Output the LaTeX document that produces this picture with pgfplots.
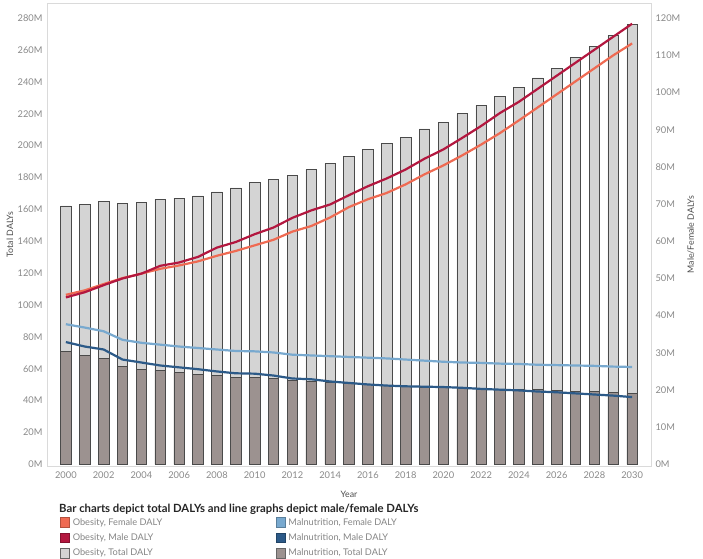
\documentclass[border=0pt]{standalone}
\usepackage{fontspec}
\setmainfont{Lato}
\usepackage{pgfplots}
\usepackage{pgfplotstable}
\pgfplotsset{compat=1.18}
\definecolor{obF}{HTML}{EF6A52}
\definecolor{obM}{HTML}{B3173F}
\definecolor{malF}{HTML}{78A9CF}
\definecolor{malM}{HTML}{2C5A88}
\definecolor{obT}{HTML}{D4D4D4}
\definecolor{malT}{HTML}{9C9290}
\definecolor{barline}{HTML}{4A4A4A}
\definecolor{axisgrey}{HTML}{DADADA}
\definecolor{tickgrey}{HTML}{8A8A8A}
\definecolor{labgrey}{HTML}{4D4D4D}
\definecolor{leggrey}{HTML}{858585}
\pgfplotstableread{
year obtot maltot obF obM malF malM
2000 162.2 70.9 45.6 44.9 37.7 32.9
2001 163.0 68.4 46.8 46.3 36.8 31.7
2002 165.0 66.5 48.5 48.2 35.8 30.9
2003 164.0 61.5 50.1 50.0 33.5 28.2
2004 164.3 59.8 51.3 51.3 32.7 27.4
2005 166.5 59.0 52.6 53.4 32.2 26.6
2006 167.0 57.5 53.5 54.3 31.7 26.1
2007 168.5 56.7 54.6 55.8 31.3 25.6
2008 171.0 55.7 56.1 58.3 30.9 25.0
2009 173.5 54.4 57.4 59.8 30.5 24.5
2010 177.0 54.4 58.9 61.9 30.4 24.4
2011 179.0 53.8 60.4 63.7 30.1 23.9
2012 181.2 52.7 62.6 66.3 29.5 23.1
2013 185.0 52.1 64.1 68.3 29.3 22.9
2014 188.8 51.3 66.4 69.9 29.1 22.3
2015 193.3 50.6 69.2 72.4 28.9 21.9
2016 197.5 50.0 71.3 74.8 28.7 21.5
2017 201.3 49.4 73.0 76.9 28.5 21.2
2018 205.1 49.0 75.3 79.3 28.2 21.0
2019 210.5 48.5 78.0 82.2 27.9 20.9
2020 214.5 48.5 80.4 84.7 27.6 20.8
2021 220.1 48.1 83.1 87.8 27.4 20.6
2022 225.2 47.5 86.0 91.0 27.3 20.3
2023 230.8 47.3 89.1 94.5 27.1 20.1
2024 236.5 47.3 92.5 97.5 27.0 19.9
2025 242.5 46.9 96.0 101.0 26.8 19.6
2026 248.5 46.3 99.5 104.5 26.7 19.4
2027 255.3 46.0 103.0 108.0 26.6 19.1
2028 262.3 45.6 106.5 111.5 26.5 18.8
2029 269.0 45.0 110.0 115.0 26.3 18.5
2030 276.0 44.4 113.2 118.5 26.2 18.1
}\data
\begin{document}
\begin{tikzpicture}
\path[use as bounding box, fill=white] (0,0) rectangle (703pt,558pt);
\begin{axis}[
  at={(47pt,92pt)}, anchor=south west, scale only axis,
  width=604pt, height=463pt,
  xmin=1999, xmax=2031, ymin=-1, ymax=289.5,
  axis line style={draw=axisgrey, line width=0.8pt},
  xtick={2000,2002,...,2030}, ytick={0,20,...,280},
  major tick length=0pt,
  /pgf/number format/assume math mode=true,
  /pgf/number format/1000 sep={},
  yticklabel={\pgfmathprintnumber{\tick}M},
  ticklabel style={font=\fontsize{9.3}{11}\selectfont, text=tickgrey},
  yticklabel style={xshift=-1pt},
  xticklabel style={yshift=-2pt},
  ylabel={Total DALYs},
  ylabel style={at={(axis description cs:-0.0613,0.5)}, anchor=center, font=\fontsize{8.8}{10}\selectfont, text=labgrey},
  xlabel={Year},
  xlabel style={at={(axis description cs:0.5,-0.0605)}, anchor=center, font=\fontsize{8.8}{10}\selectfont, text=labgrey},
  legend image code/.code={\draw[#1, line width=0.6pt] (0pt,-4.5pt) rectangle (9pt,5pt);},
  legend columns=2,
  legend style={at={(axis description cs:0.0215,-0.110)}, anchor=north west,
    draw=none, fill=none, inner sep=0pt, row sep=5pt,
    font=\fontsize{9.2}{10}\selectfont, text=leggrey,
    nodes={inner sep=1pt},
    /tikz/every even column/.append style={column sep=0pt}},
  legend cell align=left,
]
\addplot[ybar, bar width=0.56, bar shift=0pt, fill=obT, draw=barline, line width=0.6pt, forget plot] table[x=year,y=obtot]{\data};
\addplot[ybar, bar width=0.56, bar shift=0pt, fill=malT, draw=barline, line width=0.6pt, forget plot] table[x=year,y=maltot]{\data};
\addlegendimage{fill=obF, draw=obF!75!black}
\addlegendentry{\hspace{2pt}\makebox[202pt][l]{Obesity, Female DALY}}
\addlegendimage{fill=malF, draw=malF!75!black}
\addlegendentry{\hspace{2pt}Malnutrition, Female DALY}
\addlegendimage{fill=obM, draw=obM!75!black}
\addlegendentry{\hspace{2pt}\makebox[202pt][l]{Obesity, Male DALY}}
\addlegendimage{fill=malM, draw=malM!75!black}
\addlegendentry{\hspace{2pt}Malnutrition, Male DALY}
\addlegendimage{fill=obT, draw=black!60}
\addlegendentry{\hspace{2pt}\makebox[202pt][l]{Obesity, Total DALY}}
\addlegendimage{fill=malT, draw=black!60}
\addlegendentry{\hspace{2pt}Malnutrition, Total DALY}
\end{axis}
\begin{axis}[
  at={(47pt,92pt)}, anchor=south west, scale only axis,
  width=604pt, height=463pt,
  xmin=1999, xmax=2031, ymin=-0.4286, ymax=124.07,
  hide x axis,
  axis y line*=right,
  axis line style={draw=axisgrey, line width=0.8pt},
  ytick={0,10,...,120},
  major tick length=0pt,
  /pgf/number format/assume math mode=true,
  yticklabel={\pgfmathprintnumber{\tick}M},
  ticklabel style={font=\fontsize{9.3}{11}\selectfont, text=tickgrey},
  yticklabel style={xshift=1pt},
  ylabel={Male/Female DALYs},
  ylabel style={at={(axis description cs:1.066,0.5)}, anchor=center, rotate=0, font=\fontsize{8.8}{10}\selectfont, text=labgrey},
]
\addplot[malF, line width=2.2pt] table[x=year,y=malF]{\data};
\addplot[malM, line width=2.2pt] table[x=year,y=malM]{\data};
\addplot[obF, line width=2.2pt] table[x=year,y=obF]{\data};
\addplot[obM, line width=2.2pt] table[x=year,y=obM]{\data};
\end{axis}
\node[anchor=west, inner sep=0pt, font=\fontsize{11.3}{13}\selectfont\bfseries, text=black!85] at (59pt,49pt) {Bar charts depict total DALYs and line graphs depict male/female DALYs};
\end{tikzpicture}
\end{document}
